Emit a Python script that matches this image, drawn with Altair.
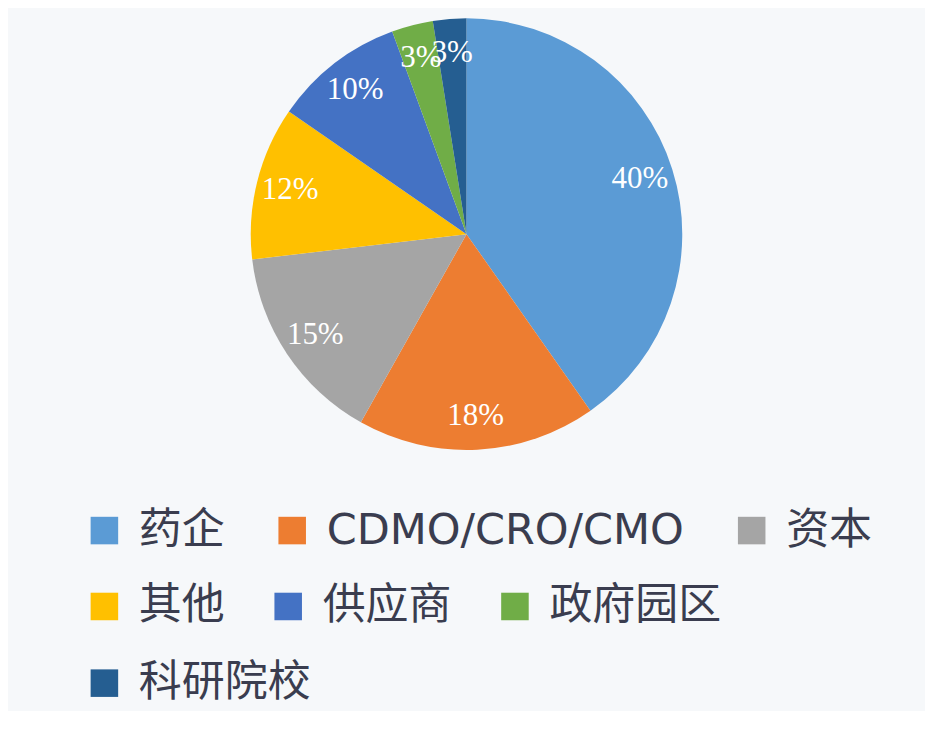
import altair as alt
import pandas as pd

categories = ["药企", "CDMO/CRO/CMO", "资本", "其他", "供应商", "政府园区", "科研院校"]
shares = [40.3, 17.9, 15.0, 11.5, 9.8, 3.1, 2.5]
labels = ["40%", "18%", "15%", "12%", "10%", "3%", "3%"]
colors = ["#5B9BD5", "#ED7D31", "#A5A5A5", "#FFC000", "#4472C4", "#70AD47", "#255E91"]

df = pd.DataFrame({
    "cat": categories,
    "share": shares,
    "label": labels,
    "order": list(range(len(categories))),
})

TAU = 6.283185307179586

base = (
    alt.Chart(df)
    .transform_joinaggregate(total="sum(share)")
    .transform_window(cum="sum(share)", sort=[alt.SortField("order")], frame=[None, 0])
    .transform_calculate(
        start="(datum.cum - datum.share) / datum.total",
        end="datum.cum / datum.total",
        mid="(2 * datum.cum - datum.share) / (2 * datum.total)",
        row="floor(datum.order / 3)",
    )
)

theta_scale = alt.Scale(domain=[0, 1], range=[0, TAU])


def legend_for(y, pad):
    return alt.Legend(
        title=None,
        orient="none",
        legendX=75,
        legendY=y,
        direction="horizontal",
        symbolType="square",
        symbolSize=760,
        symbolStrokeWidth=0,
        symbolOpacity=1,
        labelFont="DejaVu Sans, Noto Sans CJK SC",
        labelFontSize=43,
        labelColor="#3A3D4F",
        labelOffset=13,
        columnPadding=pad,
        labelLimit=600,
        padding=0,
    )


layers = []
legend_ys = [501, 577, 654]
legend_pads = [46, 42, 42]
for r in range(3):
    idx = [i for i in range(len(categories)) if i // 3 == r]
    dom = [categories[i] for i in idx]
    rng = [colors[i] for i in idx]
    layers.append(
        base.transform_filter(f"datum.row == {r}")
        .mark_arc(outerRadius=216)
        .encode(
            theta=alt.Theta("start:Q", scale=theta_scale),
            theta2="end:Q",
            color=alt.Color(
                "cat:N",
                scale=alt.Scale(domain=dom, range=rng),
                sort=dom,
                legend=legend_for(legend_ys[r], legend_pads[r]),
            ),
        )
    )

text = base.mark_text(
    radius=182,
    font="Liberation Serif",
    fontSize=31,
    color="#FFFFFF",
    align="center",
    baseline="middle",
).encode(
    theta=alt.Theta("mid:Q", scale=theta_scale),
    text="label:N",
)

chart = (
    alt.layer(*layers, text)
    .resolve_scale(color="independent")
    .properties(
        width=918,
        height=452,
        padding={"left": 0, "top": 0, "right": 0, "bottom": 5},
        background="#F6F8FA",
    )
    .configure_view(stroke=None)
)

chart.save("out.html", embed_options={"renderer": "svg", "actions": False})
